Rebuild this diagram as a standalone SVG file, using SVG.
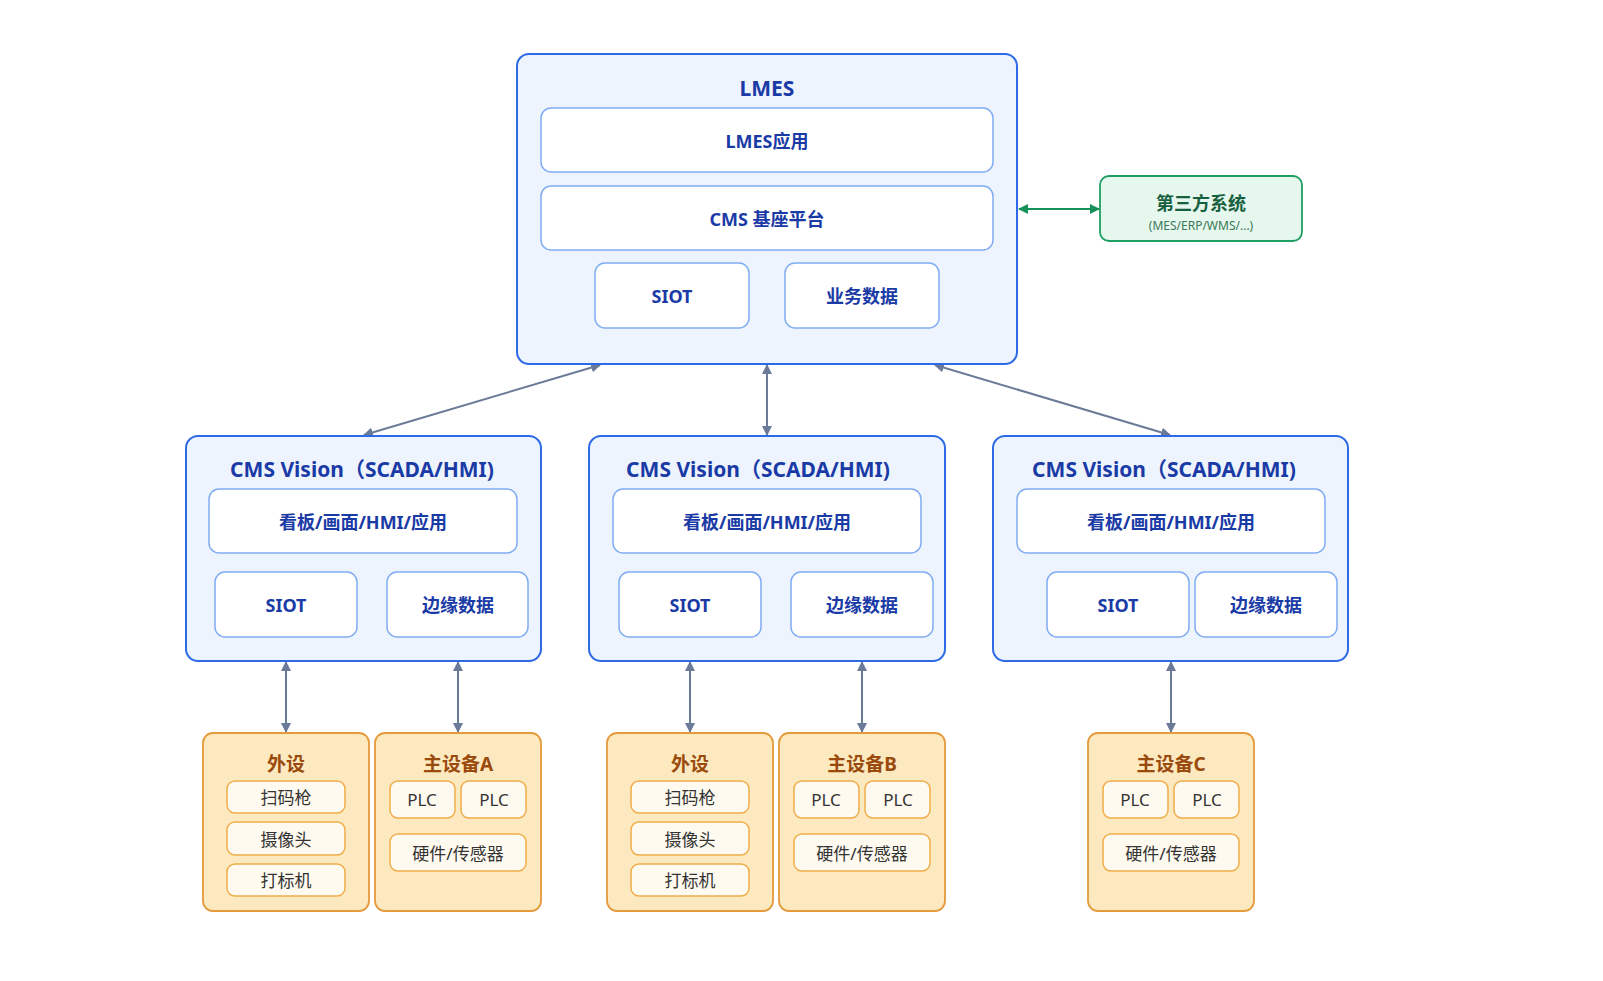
<svg xmlns="http://www.w3.org/2000/svg" width="1603" height="981" viewBox="0 0 1603 981">
<style>
text{font-family:"Noto Sans","Noto Sans CJK SC",sans-serif;text-anchor:middle;dominant-baseline:central}
.outer{fill:#edf4fe;stroke:#2d6ae6;stroke-width:2}
.inner{fill:#fff;stroke:#80adf2;stroke-width:1.5}
.bt{fill:#1a3aa6;font-weight:bold;font-size:18px}
.title{fill:#1a3aa6;font-weight:bold;font-size:21px}
.org{fill:#fde9bf;stroke:#e59a3c;stroke-width:1.8}
.oin{fill:#fffaf0;stroke:#f0ad4a;stroke-width:1.5}
.ot{fill:#9a4a0c;font-weight:bold;font-size:19px}
.it{fill:#333;font-size:17px}
.con{stroke:#6b7a96;stroke-width:2;fill:none;marker-start:url(#a);marker-end:url(#a)}
</style>
<defs>
<marker id="a" viewBox="0 0 10 10" refX="9" refY="5" markerWidth="5" markerHeight="5" orient="auto-start-reverse"><path d="M0,0L10,5L0,10z" fill="#6b7a96"/></marker>
<marker id="g" viewBox="0 0 10 10" refX="9" refY="5" markerWidth="5" markerHeight="5" orient="auto-start-reverse"><path d="M0,0L10,5L0,10z" fill="#16915a"/></marker>
</defs>
<rect width="1603" height="981" fill="#fff"/>
<g id="connectors">
<line class="con" x1="600" y1="365" x2="364" y2="435"/>
<line class="con" x1="767" y1="365" x2="767" y2="435"/>
<line class="con" x1="935" y1="365" x2="1170" y2="435"/>
<line class="con" x1="286" y1="662" x2="286" y2="732"/>
<line class="con" x1="458" y1="662" x2="458" y2="732"/>
<line class="con" x1="690" y1="662" x2="690" y2="732"/>
<line class="con" x1="862" y1="662" x2="862" y2="732"/>
<line class="con" x1="1171" y1="662" x2="1171" y2="732"/>
<line x1="1019" y1="209" x2="1099" y2="209" stroke="#16915a" stroke-width="2" marker-start="url(#g)" marker-end="url(#g)"/>
</g>
<g id="lmes">
<rect class="outer" x="517" y="54" width="500" height="310" rx="12"/>
<text class="title" x="767" y="88">LMES</text>
<rect class="inner" x="541" y="108" width="452" height="64" rx="10"/><text class="bt" x="767" y="141">LMES应用</text>
<rect class="inner" x="541" y="186" width="452" height="64" rx="10"/><text class="bt" x="767" y="219">CMS 基座平台</text>
<rect class="inner" x="595" y="263" width="154" height="65" rx="10"/><text class="bt" x="672" y="296">SIOT</text>
<rect class="inner" x="785" y="263" width="154" height="65" rx="10"/><text class="bt" x="862" y="296">业务数据</text>
</g>
<g id="third">
<rect x="1100" y="176" width="202" height="65" rx="9" fill="#e6f7ee" stroke="#1e9e62" stroke-width="1.8"/>
<text x="1201" y="203" fill="#17603e" font-weight="bold" font-size="18">第三方系统</text>
<text x="1201" y="225" fill="#3a7a58" font-size="12">(MES/ERP/WMS/...)</text>
</g>
<g id="vision1">
<rect class="outer" x="186" y="436" width="355" height="225" rx="12"/>
<text class="title" x="362" y="469">CMS Vision（SCADA/HMI)</text>
<rect class="inner" x="209" y="489" width="308" height="64" rx="10"/><text class="bt" x="363" y="522">看板/画面/HMI/应用</text>
<rect class="inner" x="215" y="572" width="142" height="65" rx="10"/><text class="bt" x="286" y="605">SIOT</text>
<rect class="inner" x="387" y="572" width="141" height="65" rx="10"/><text class="bt" x="458" y="605">边缘数据</text>
</g>
<g id="vision2">
<rect class="outer" x="589" y="436" width="356" height="225" rx="12"/>
<text class="title" x="758" y="469">CMS Vision（SCADA/HMI)</text>
<rect class="inner" x="613" y="489" width="308" height="64" rx="10"/><text class="bt" x="767" y="522">看板/画面/HMI/应用</text>
<rect class="inner" x="619" y="572" width="142" height="65" rx="10"/><text class="bt" x="690" y="605">SIOT</text>
<rect class="inner" x="791" y="572" width="142" height="65" rx="10"/><text class="bt" x="862" y="605">边缘数据</text>
</g>
<g id="vision3">
<rect class="outer" x="993" y="436" width="355" height="225" rx="12"/>
<text class="title" x="1164" y="469">CMS Vision（SCADA/HMI)</text>
<rect class="inner" x="1017" y="489" width="308" height="64" rx="10"/><text class="bt" x="1171" y="522">看板/画面/HMI/应用</text>
<rect class="inner" x="1047" y="572" width="142" height="65" rx="10"/><text class="bt" x="1118" y="605">SIOT</text>
<rect class="inner" x="1195" y="572" width="142" height="65" rx="10"/><text class="bt" x="1266" y="605">边缘数据</text>
</g>
<g id="periph1">
<rect class="org" x="203" y="733" width="166" height="178" rx="10"/>
<text class="ot" x="286" y="764">外设</text>
<rect class="oin" x="227" y="781" width="118" height="32" rx="8"/><text class="it" x="286" y="797">扫码枪</text>
<rect class="oin" x="227" y="822" width="118" height="33" rx="8"/><text class="it" x="286" y="839">摄像头</text>
<rect class="oin" x="227" y="864" width="118" height="32" rx="8"/><text class="it" x="286" y="880">打标机</text>
</g>
<g id="devA">
<rect class="org" x="375" y="733" width="166" height="178" rx="10"/>
<text class="ot" x="458" y="764">主设备A</text>
<rect class="oin" x="390" y="781" width="65" height="37" rx="8"/><text class="it" x="422" y="799">PLC</text>
<rect class="oin" x="461" y="781" width="65" height="37" rx="8"/><text class="it" x="494" y="799">PLC</text>
<rect class="oin" x="390" y="834" width="136" height="37" rx="8"/><text class="it" x="458" y="853">硬件/传感器</text>
</g>
<g id="periph2">
<rect class="org" x="607" y="733" width="166" height="178" rx="10"/>
<text class="ot" x="690" y="764">外设</text>
<rect class="oin" x="631" y="781" width="118" height="32" rx="8"/><text class="it" x="690" y="797">扫码枪</text>
<rect class="oin" x="631" y="822" width="118" height="33" rx="8"/><text class="it" x="690" y="839">摄像头</text>
<rect class="oin" x="631" y="864" width="118" height="32" rx="8"/><text class="it" x="690" y="880">打标机</text>
</g>
<g id="devB">
<rect class="org" x="779" y="733" width="166" height="178" rx="10"/>
<text class="ot" x="862" y="764">主设备B</text>
<rect class="oin" x="794" y="781" width="65" height="37" rx="8"/><text class="it" x="826" y="799">PLC</text>
<rect class="oin" x="865" y="781" width="65" height="37" rx="8"/><text class="it" x="898" y="799">PLC</text>
<rect class="oin" x="794" y="834" width="136" height="37" rx="8"/><text class="it" x="862" y="853">硬件/传感器</text>
</g>
<g id="devC">
<rect class="org" x="1088" y="733" width="166" height="178" rx="10"/>
<text class="ot" x="1171" y="764">主设备C</text>
<rect class="oin" x="1103" y="781" width="65" height="37" rx="8"/><text class="it" x="1135" y="799">PLC</text>
<rect class="oin" x="1174" y="781" width="65" height="37" rx="8"/><text class="it" x="1207" y="799">PLC</text>
<rect class="oin" x="1103" y="834" width="136" height="37" rx="8"/><text class="it" x="1171" y="853">硬件/传感器</text>
</g>
</svg>
